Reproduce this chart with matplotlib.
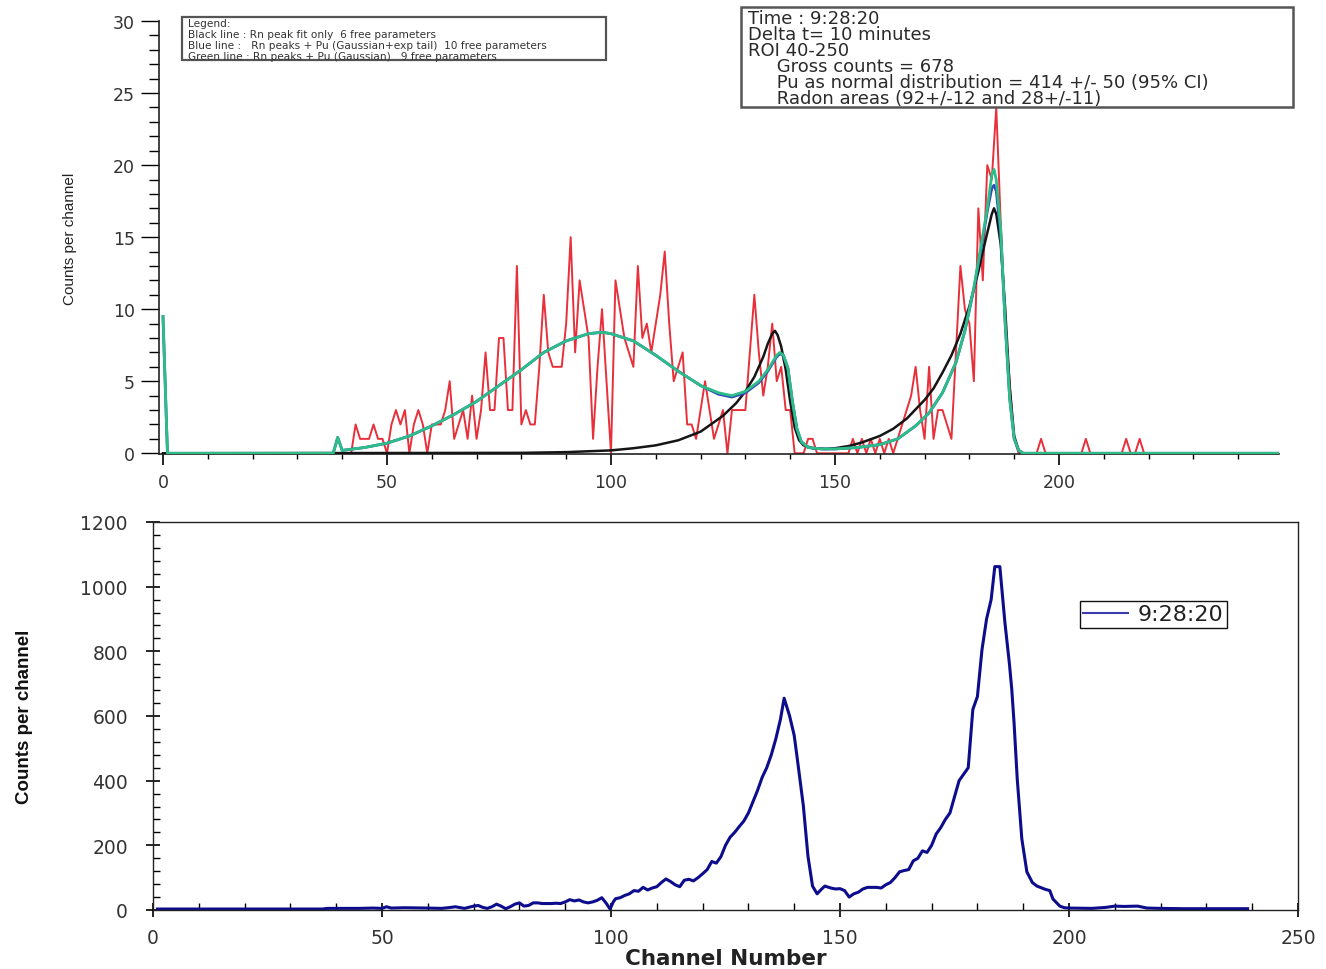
import numpy as np
import matplotlib
matplotlib.use("Agg")
import matplotlib.pyplot as plt
from matplotlib.patches import Rectangle
from matplotlib.ticker import MultipleLocator

# ---- top panel: measured counts (channel 40 onward) ----
red_ch = np.arange(40, 250)
red_cnt = np.zeros(len(red_ch))
red_vals = {
    43: 2, 44: 1, 45: 1, 46: 1, 47: 2, 48: 1, 49: 1, 50: 0,
    51: 2, 52: 3, 53: 2, 54: 3, 55: 0, 56: 2, 57: 3, 58: 2, 59: 0,
    60: 2, 61: 2, 62: 2, 63: 3, 64: 5, 65: 1, 66: 2, 67: 3, 68: 1, 69: 4,
    70: 1, 71: 3, 72: 7, 73: 3, 74: 3, 75: 8, 76: 8, 77: 3, 78: 3, 79: 13,
    80: 2, 81: 3, 82: 2, 83: 2, 84: 6, 85: 11, 86: 7, 87: 6, 88: 6, 89: 6,
    90: 9, 91: 15, 92: 7, 93: 12, 94: 10, 95: 8, 96: 1, 97: 6, 98: 10, 99: 5,
    100: 0, 101: 12, 102: 10, 103: 8, 104: 7, 105: 6, 106: 13, 107: 8, 108: 9, 109: 7,
    110: 9, 111: 11, 112: 14, 113: 9, 114: 5, 115: 6, 116: 7, 117: 2, 118: 2, 119: 1,
    120: 3, 121: 5, 122: 3, 123: 1, 124: 2, 125: 3, 126: 0, 127: 3, 128: 3, 129: 3,
    130: 3, 131: 7, 132: 11, 133: 7, 134: 4, 135: 6, 136: 9, 137: 5, 138: 6, 139: 3,
    140: 3, 141: 0, 144: 1, 145: 1,
    154: 1, 156: 1, 158: 1, 160: 1, 162: 1, 164: 1, 165: 2,
    166: 3, 167: 4, 168: 6, 169: 3, 170: 1, 171: 6, 172: 1, 173: 3, 174: 3, 175: 2,
    176: 1, 177: 7, 178: 13, 179: 10, 180: 9, 181: 5, 182: 17, 183: 12, 184: 20, 185: 19,
    186: 24, 187: 16, 188: 9, 189: 5, 190: 1,
    196: 1, 206: 1, 215: 1, 218: 1,
}
for c, v in red_vals.items():
    red_cnt[c - 40] = v

# ---- fitted curves (sampled) ----
black_ch = [0, 80, 90, 100, 105, 110, 115, 120, 125, 128, 130, 132, 134, 135, 136,
            136.6, 137.2, 138, 139, 140, 141, 142, 143, 145, 148, 150, 153, 156, 160,
            163, 166, 170, 172, 174, 176, 178, 180, 182, 183, 184, 185, 185.5, 186,
            187, 188, 189, 190, 191, 192, 249]
black_val = [0, 0.03, 0.08, 0.2, 0.35, 0.55, 0.9, 1.5, 2.6, 3.5, 4.3, 5.3, 6.7, 7.6, 8.3,
             8.5, 8.2, 7.4, 5.8, 3.6, 1.8, 0.9, 0.55, 0.35, 0.3, 0.35, 0.5, 0.75, 1.2,
             1.7, 2.4, 3.7, 4.5, 5.6, 6.8, 8.3, 10.2, 12.6, 14.0, 15.3, 16.6, 17.0, 16.6,
             14.5, 10.0, 4.5, 1.2, 0.2, 0, 0]

fit_ch = [0, 1, 38, 39, 40, 45, 50, 55, 60, 65, 70, 75, 80, 85, 90, 95, 98, 100,
          105, 110, 115, 120, 124, 127, 130, 133, 135, 136, 137, 137.7, 138.5, 139.5,
          140.5, 141.5, 142.5, 144, 147, 150, 155, 160, 164, 168, 171, 174, 177, 179,
          181, 182.5, 184, 185, 185.5, 186, 187, 188, 189, 190, 191, 192, 249]
green_val = [9.5, 0, 0, 1.1, 0.2, 0.4, 0.7, 1.2, 1.9, 2.7, 3.6, 4.7, 5.8, 7.0, 7.8, 8.3, 8.4, 8.3,
             7.8, 6.8, 5.7, 4.7, 4.2, 4.0, 4.3, 5.0, 5.8, 6.3, 6.8, 7.0, 6.8, 5.9,
             3.6, 1.7, 0.8, 0.4, 0.3, 0.3, 0.4, 0.6, 1.0, 1.9, 2.8, 4.2, 6.3, 8.5,
             11.5, 14.2, 17.0, 19.3, 19.7, 19.0, 15.5, 9.0, 3.8, 1.0, 0.2, 0, 0]
blue_val = [9.5, 0, 0, 1.1, 0.2, 0.4, 0.7, 1.2, 1.9, 2.7, 3.6, 4.7, 5.8, 7.0, 7.8, 8.3, 8.4, 8.3,
            7.8, 6.8, 5.7, 4.7, 4.1, 3.9, 4.2, 4.9, 5.7, 6.2, 6.7, 6.9, 6.8, 5.9,
            3.6, 1.7, 0.8, 0.4, 0.3, 0.3, 0.4, 0.6, 1.0, 1.9, 2.8, 4.2, 6.3, 8.5,
            11.4, 14.0, 16.8, 18.4, 18.6, 18.2, 15.2, 9.0, 3.8, 1.0, 0.2, 0, 0]

# ---- bottom panel: summed spectrum 9:28:20 ----
spec_ch = [1, 37, 38, 45, 48, 50, 51, 52, 55, 60, 63, 65, 66, 68, 70, 71, 72, 73, 74, 75,
           76, 77, 78, 79, 80, 81, 82, 83, 84, 85, 86, 87, 88, 89, 90, 91, 92, 93, 94, 95,
           96, 97, 98, 99, 99.8, 100.5, 101, 102, 103, 104, 105, 106, 107, 108, 109, 110,
           111, 112, 113, 114, 115, 116, 117, 118, 119, 120, 121, 122, 123, 124, 125, 126,
           127, 128, 129, 130, 131, 132, 133, 134, 135, 136, 137, 137.8, 139, 140, 140.6,
           142, 143, 144, 145, 146, 146.7, 148, 149, 150, 151, 152, 153, 154, 155, 156,
           157, 158, 159, 160, 161, 162, 163, 164, 165, 166, 167, 168, 169, 170, 171, 172,
           173, 174, 175, 176, 177, 178, 179, 180, 181, 182, 183, 183.8, 184.9, 186, 187,
           187.5, 188, 188.7, 189.7, 190.8, 192, 193, 194.8, 195.8, 196.5, 198, 199, 200,
           205, 208, 210, 212, 215, 217, 220, 225, 230, 239]
spec_cnt = [3, 3, 5, 5, 6, 5, 10, 6, 7, 6, 5, 8, 10, 5, 12, 14, 8, 5, 10, 18,
            12, 4, 10, 18, 22, 12, 14, 22, 22, 20, 20, 20, 21, 20, 25, 32, 28, 31, 25, 22,
            25, 30, 38, 20, 3, 25, 35, 38, 45, 50, 60, 58, 70, 62, 68, 72,
            85, 96, 88, 78, 72, 92, 95, 90, 100, 112, 125, 150, 145, 165, 200, 225,
            240, 258, 275, 300, 335, 370, 410, 440, 480, 530, 590, 655, 600, 540, 476,
            322, 167, 74, 50, 65, 74, 68, 65, 66, 60, 40, 50, 55, 65, 70,
            70, 70, 68, 78, 85, 100, 118, 122, 125, 152, 160, 183, 178, 200, 235, 255,
            280, 300, 350, 400, 420, 440, 620, 660, 805, 900, 960, 1062, 1062, 890, 760,
            683, 580, 405, 220, 118, 85, 74, 64, 60, 34, 12, 7, 6,
            5, 8, 12, 11, 12, 6, 5, 4, 4, 4]

legend_lines = [
    "Legend:",
    "Black line : Rn peak fit only  6 free parameters",
    "Blue line :   Rn peaks + Pu (Gaussian+exp tail)  10 free parameters",
    "Green line : Rn peaks + Pu (Gaussian)   9 free parameters",
]
info_lines = [
    "Time : 9:28:20",
    "Delta t= 10 minutes",
    "ROI 40-250",
    "     Gross counts = 678",
    "     Pu as normal distribution = 414 +/- 50 (95% CI)",
    "     Radon areas (92+/-12 and 28+/-11)",
]

W, H = 1326, 970
fig = plt.figure(figsize=(W / 100, H / 100), dpi=100)
fig.patch.set_facecolor("white")

def fx(px):
    return px / W

def fy(py):
    return 1 - py / H

tick_col = "#333333"
label_family = ["Liberation Sans Narrow", "Liberation Sans"]

# ---------------- top panel ----------------
ax1 = fig.add_axes([fx(158.5), fy(455), fx(1278.5 - 158.5), (455 - 22) / H])
ax1.plot(red_ch, red_cnt, color="#e8303a", lw=1.4, zorder=2)
ax1.plot(black_ch, black_val, color="#151515", lw=1.8, zorder=3)
ax1.plot(fit_ch, blue_val, color="#3148c0", lw=2.0, zorder=4)
ax1.plot(fit_ch, green_val, color="#2dbd86", lw=2.0, zorder=5)
ax1.set_xlim(-1, 249)
ax1.set_ylim(-0.05, 30)
for s in ["top", "right"]:
    ax1.spines[s].set_visible(False)
for s in ["left", "bottom"]:
    ax1.spines[s].set_color("#222222")
    ax1.spines[s].set_linewidth(1.2)
ax1.yaxis.set_major_locator(MultipleLocator(5))
ax1.yaxis.set_minor_locator(MultipleLocator(1))
ax1.xaxis.set_minor_locator(MultipleLocator(10))
ax1.set_xticks([0, 50, 100, 150, 200])
ax1.tick_params(axis="y", which="major", direction="out", length=13, width=1, pad=4,
                labelsize=12.5, labelcolor=tick_col)
ax1.tick_params(axis="y", which="minor", direction="out", length=7, width=1)
ax1.tick_params(axis="x", which="major", direction="out", length=8, width=1.2, pad=6,
                labelsize=12.5, labelcolor=tick_col)
ax1.tick_params(axis="x", which="minor", direction="out", length=3.5, width=1)
ax1.set_ylabel("Counts per channel", family=label_family,
               fontsize=11, color="#222222", labelpad=26)

# legend box (top left)
fig.add_artist(Rectangle((fx(182), fy(61)), fx(424), 43 / H, transform=fig.transFigure,
                         fill=False, edgecolor="#555555", lw=1.6))
for i, line in enumerate(legend_lines):
    fig.text(fx(188), fy(24 + 11 * i), line, fontsize=7.6, color="#333333",
             va="center", ha="left")

# info box (top right)
fig.add_artist(Rectangle((fx(741), fy(108)), fx(552), 100 / H, transform=fig.transFigure,
                         fill=True, facecolor="white", edgecolor="#555555", lw=1.8, zorder=10))
for i, line in enumerate(info_lines):
    fig.text(fx(748), fy(19 + 16 * i), line, fontsize=13, color="#2a2a2a",
             va="center", ha="left", zorder=11)

# ---------------- bottom panel ----------------
ax2 = fig.add_axes([fx(153), fy(911), fx(1298 - 153), (911 - 523) / H])
ax2.plot(spec_ch, spec_cnt, color="#0c0c8c", lw=2.2, label="9:28:20")
ax2.set_xlim(0, 250)
ax2.set_ylim(0, 1200)
for s in ax2.spines.values():
    s.set_color("#222222")
    s.set_linewidth(1.0)
ax2.xaxis.set_major_locator(MultipleLocator(50))
ax2.xaxis.set_minor_locator(MultipleLocator(10))
ax2.yaxis.set_major_locator(MultipleLocator(200))
ax2.yaxis.set_minor_locator(MultipleLocator(40))
ax2.tick_params(which="major", direction="inout", length=10, width=1.2, labelsize=13.5,
                labelcolor=tick_col)
ax2.tick_params(axis="x", which="major", pad=8)
ax2.tick_params(axis="y", which="major", pad=13)
ax2.tick_params(which="minor", direction="in", length=5, width=1)
ax2.set_ylabel("Counts per channel", family=label_family,
               fontsize=13.5, fontweight="bold", color="#111111", labelpad=34)
ax2.set_xlabel("Channel Number", fontsize=15.5, fontweight="bold", color="#222222", labelpad=1)
leg = ax2.legend(loc="upper left", bbox_to_anchor=((1080 - 153) / 1145, (911 - 602) / 388),
                 borderaxespad=0, fancybox=False, edgecolor="#111111", framealpha=1,
                 fontsize=16, handlelength=2.0, borderpad=0.15, handletextpad=0.45)
leg.get_frame().set_linewidth(1.0)
leg.get_lines()[0].set_linewidth(1.5)
leg.get_lines()[0].set_color("#3a3ab0")
for t in leg.get_texts():
    t.set_color("#222222")

fig.savefig("out.png", dpi=100)
